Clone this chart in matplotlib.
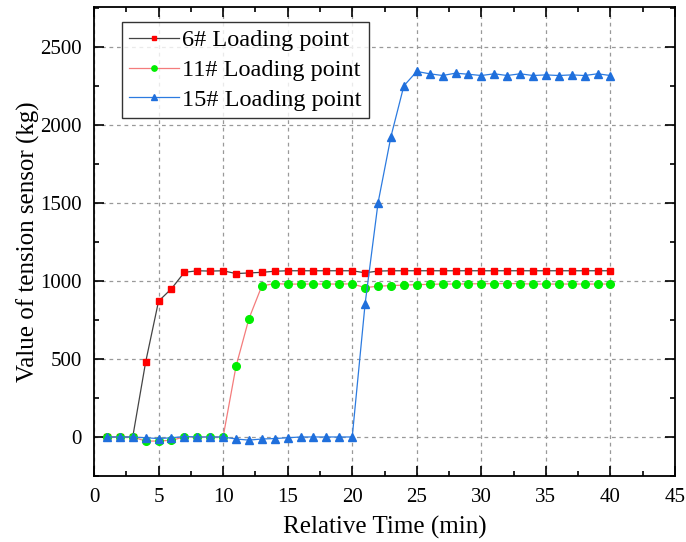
"""Tension sensor readings at three loading points over time."""
import numpy as np
import matplotlib
matplotlib.use('Agg')
import matplotlib.pyplot as plt
from matplotlib.ticker import MultipleLocator

time_min = list(range(1, 41))

load_6 = [0, 0, 0, 480, 870, 950, 1055, 1065, 1063, 1065,
          1047, 1051, 1055, 1062, 1065, 1065, 1065, 1065, 1065, 1065,
          1052, 1063, 1065, 1065, 1065, 1065, 1065, 1065, 1065, 1065,
          1065, 1065, 1065, 1065, 1065, 1065, 1065, 1065, 1065, 1065]

load_11 = [0, 0, 0, -26, -26, -21, 0, 0, 0, 0,
           453, 758, 968, 983, 979, 980, 980, 980, 980, 981,
           957, 966, 970, 973, 976, 978, 980, 980, 981, 982,
           982, 983, 982, 980, 980, 980, 980, 980, 980, 980]

load_15 = [0, 0, 0, -5, -10, -5, 3, 0, 0, 0,
           -13, -20, -13, -10, -5, 0, 0, 0, 0, 0,
           855, 1500, 1925, 2250, 2342, 2327, 2316, 2331, 2324, 2316,
           2327, 2316, 2327, 2316, 2320, 2316, 2320, 2316, 2327, 2316]

series_labels = ['6# Loading point', '11# Loading point', '15# Loading point']


def main():
    plt.rcParams['font.family'] = ['Liberation Serif', 'DejaVu Serif']

    fig = plt.figure(figsize=(6.86, 5.42), dpi=100)
    ax = fig.add_axes([94 / 686, 1 - 476 / 542, 581 / 686, 469 / 542])

    ax.plot(time_min, load_6, color='#444444', lw=0.9, marker='s', ms=5,
            mfc='#ff0000', mec='#ff0000', label=series_labels[0], zorder=3)
    ax.plot(time_min, load_11, color='#f47c7c', lw=0.9, marker='o', ms=5.5,
            mfc='#00ee00', mec='#00ee00', label=series_labels[1], zorder=3)
    ax.plot(time_min, load_15, color='#2c7be0', lw=0.9, marker='^', ms=6,
            mfc='#1f6fdc', mec='#1f6fdc', label=series_labels[2], zorder=4)

    ax.set_xlim(0, 45)
    ax.set_ylim(-250, 2755)
    ax.xaxis.set_major_locator(MultipleLocator(5))
    ax.xaxis.set_minor_locator(MultipleLocator(2.5))
    ax.yaxis.set_major_locator(MultipleLocator(500))
    ax.yaxis.set_minor_locator(MultipleLocator(250))
    ax.tick_params(which='both', direction='in', top=True, right=True,
                   labelsize=15, width=1.2)
    ax.tick_params(which='major', length=7, pad=9)
    ax.tick_params(which='minor', length=3.5)
    for s in ax.spines.values():
        s.set_linewidth(1.3)

    ax.grid(True, which='major', ls=(0, (3, 3)), color='#999999', lw=0.9)
    ax.set_axisbelow(True)

    ax.set_xlabel('Relative Time (min)', fontsize=18, labelpad=6)
    ax.set_ylabel('Value of tension sensor (kg)', fontsize=18, labelpad=0)

    leg = ax.legend(loc='upper left', bbox_to_anchor=(0.048, 0.968), fontsize=17.5,
                    frameon=True, fancybox=False, edgecolor='black',
                    handlelength=2.05, handletextpad=0.12, borderpad=0.3,
                    labelspacing=0.32, markerscale=0.7, borderaxespad=0)
    leg.get_frame().set_linewidth(1.0)
    # nudge handles a little to the left inside the frame
    leg._legend_box.sep = 0

    fig.savefig('out.png', dpi=100)


if __name__ == '__main__':
    main()
